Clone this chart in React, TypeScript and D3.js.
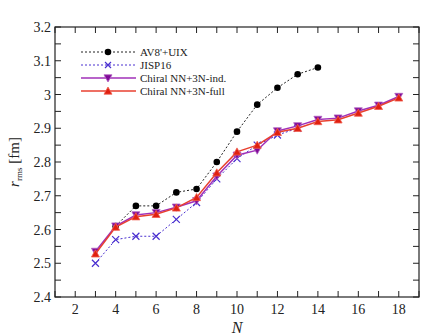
import React from 'react';
import * as d3 from 'd3';

const nAv8 = [4, 5, 6, 7, 8, 9, 10, 11, 12, 13, 14];
const rAv8 = [2.61, 2.67, 2.67, 2.71, 2.72, 2.80, 2.89, 2.97, 3.02, 3.06, 3.08];

const nJisp = [3, 4, 5, 6, 7, 8, 9, 10, 11, 12, 13];
const rJisp = [2.50, 2.57, 2.58, 2.58, 2.63, 2.68, 2.75, 2.81, 2.85, 2.88, 2.90];

const nChiral = [3, 4, 5, 6, 7, 8, 9, 10, 11, 12, 13, 14, 15, 16, 17, 18];
const rInd = [2.535, 2.61, 2.643, 2.65, 2.666, 2.685, 2.758, 2.82, 2.835, 2.892, 2.907, 2.926, 2.93, 2.951, 2.968, 2.994];
const rFull = [2.528, 2.607, 2.638, 2.645, 2.664, 2.695, 2.768, 2.83, 2.85, 2.888, 2.90, 2.92, 2.925, 2.945, 2.965, 2.99];

const xTicks = [2, 4, 6, 8, 10, 12, 14, 16, 18];
const yTicks = [2.4, 2.5, 2.6, 2.7, 2.8, 2.9, 3, 3.1, 3.2];
const legendNames = ["AV8'+UIX", 'JISP16', 'Chiral NN+3N-ind.', 'Chiral NN+3N-full'];

const W = 443, H = 336;
const L = 55, R = 419, T = 27, B = 297;
const font = "Liberation Serif, DejaVu Serif, serif";

const App = () => {
	const x = d3.scaleLinear().domain([1, 19]).range([L, R]);
	const y = d3.scaleLinear().domain([2.4, 3.2]).range([B, T]);
	const line = d3.line<[number, number]>().x(d => x(d[0])).y(d => y(d[1]));

	const av8 = nAv8.map((n, i) => [n, rAv8[i]] as [number, number]);
	const jisp = nJisp.map((n, i) => [n, rJisp[i]] as [number, number]);
	const ind = nChiral.map((n, i) => [n, rInd[i]] as [number, number]);
	const full = nChiral.map((n, i) => [n, rFull[i]] as [number, number]);

	const minorX = d3.range(1, 20, 1);
	const minorY = d3.range(2.4, 3.2001, 0.05);
	const tk = 6;

	const cross = (cx: number, cy: number, s: number, c: string, k: string) => (
		<path key={k} d={`M${cx - s},${cy - s}L${cx + s},${cy + s}M${cx - s},${cy + s}L${cx + s},${cy - s}`} stroke={c} strokeWidth={1.2} fill="none" />
	);
	const triDown = (cx: number, cy: number, s: number, c: string, k: string) => (
		<path key={k} d={`M${cx - s},${cy - s * 0.8}L${cx + s},${cy - s * 0.8}L${cx},${cy + s}Z`} fill={c} stroke="#b060c0" strokeWidth={0.8} />
	);
	const triUp = (cx: number, cy: number, s: number, c: string, k: string) => (
		<path key={k} d={`M${cx - s},${cy + s * 0.8}L${cx + s},${cy + s * 0.8}L${cx},${cy - s}Z`} fill={c} stroke="#f06050" strokeWidth={0.8} />
	);

	const legY = [52, 65, 78, 91];

	return (
		<svg width={W} height={H} style={{ position: 'absolute', left: 0, top: 0, fontFamily: font }}>
			<rect width={W} height={H} fill="#fff" />
			{/* ticks on all four sides */}
			{minorX.map(v => (
				<g key={'tx' + v} stroke="#222" strokeWidth={1}>
					<line x1={x(v)} x2={x(v)} y1={B} y2={B - tk} />
					<line x1={x(v)} x2={x(v)} y1={T} y2={T + tk} />
				</g>
			))}
			{minorY.map((v, i) => (
				<g key={'ty' + i} stroke="#222" strokeWidth={1}>
					<line x1={L} x2={L + tk} y1={y(v)} y2={y(v)} />
					<line x1={R} x2={R - tk} y1={y(v)} y2={y(v)} />
				</g>
			))}
			<rect x={L} y={T} width={R - L} height={B - T} fill="none" stroke="#222" strokeWidth={1.2} />

			{xTicks.map(v => (
				<text key={'xl' + v} x={x(v)} y={B + 17} textAnchor="middle" fontSize={14} fill="#222">{v}</text>
			))}
			{yTicks.map(v => (
				<text key={'yl' + v} x={L - 4} y={y(v) + 5} textAnchor="end" fontSize={14} fill="#222">{String(v)}</text>
			))}

			<text x={(L + R) / 2} y={333} textAnchor="middle" fontSize={16} fontStyle="italic" fill="#222">N</text>
			<text transform={`translate(19,${(T + B) / 2}) rotate(-90)`} textAnchor="middle" fontSize={15} fill="#222">
				<tspan fontStyle="italic">r</tspan>
				<tspan fontSize={9} dy={3}>rms</tspan>
				<tspan dy={-3}> [fm]</tspan>
			</text>

			{/* series */}
			<path d={line(av8) || ''} fill="none" stroke="#222" strokeWidth={1} strokeDasharray="2,2" />
			{av8.map((d, i) => <circle key={'a' + i} cx={x(d[0])} cy={y(d[1])} r={3.3} fill="#000" />)}

			<path d={line(jisp) || ''} fill="none" stroke="#4a30d0" strokeWidth={1} strokeDasharray="2,2" />
			{jisp.map((d, i) => cross(x(d[0]), y(d[1]), 3.5, '#4a30d0', 'j' + i))}

			<path d={line(ind) || ''} fill="none" stroke="#a030b8" strokeWidth={1.5} />
			{ind.map((d, i) => triDown(x(d[0]), y(d[1]), 4, '#800a98', 'i' + i))}

			<path d={line(full) || ''} fill="none" stroke="#e84030" strokeWidth={1.5} />
			{full.map((d, i) => triUp(x(d[0]), y(d[1]), 4, '#e02010', 'f' + i))}

			{/* legend */}
			<g>
				<line x1={81} x2={136} y1={legY[0]} y2={legY[0]} stroke="#222" strokeDasharray="2,2" />
				<circle cx={108} cy={legY[0]} r={3.3} fill="#000" />
				<line x1={81} x2={136} y1={legY[1]} y2={legY[1]} stroke="#4a30d0" strokeDasharray="2,2" />
				{cross(108, legY[1], 3, '#4a30d0', 'lj')}
				<line x1={81} x2={136} y1={legY[2]} y2={legY[2]} stroke="#a030b8" strokeWidth={1.5} />
				{triDown(108, legY[2], 4, '#800a98', 'li')}
				<line x1={81} x2={136} y1={legY[3]} y2={legY[3]} stroke="#e84030" strokeWidth={1.5} />
				{triUp(108, legY[3], 4, '#e02010', 'lf')}
				{legendNames.map((s, i) => (
					<text key={'ln' + i} x={140} y={legY[i] + 4} fontSize={11} fill="#222">{s}</text>
				))}
			</g>
		</svg>
	);
};

export default App;
